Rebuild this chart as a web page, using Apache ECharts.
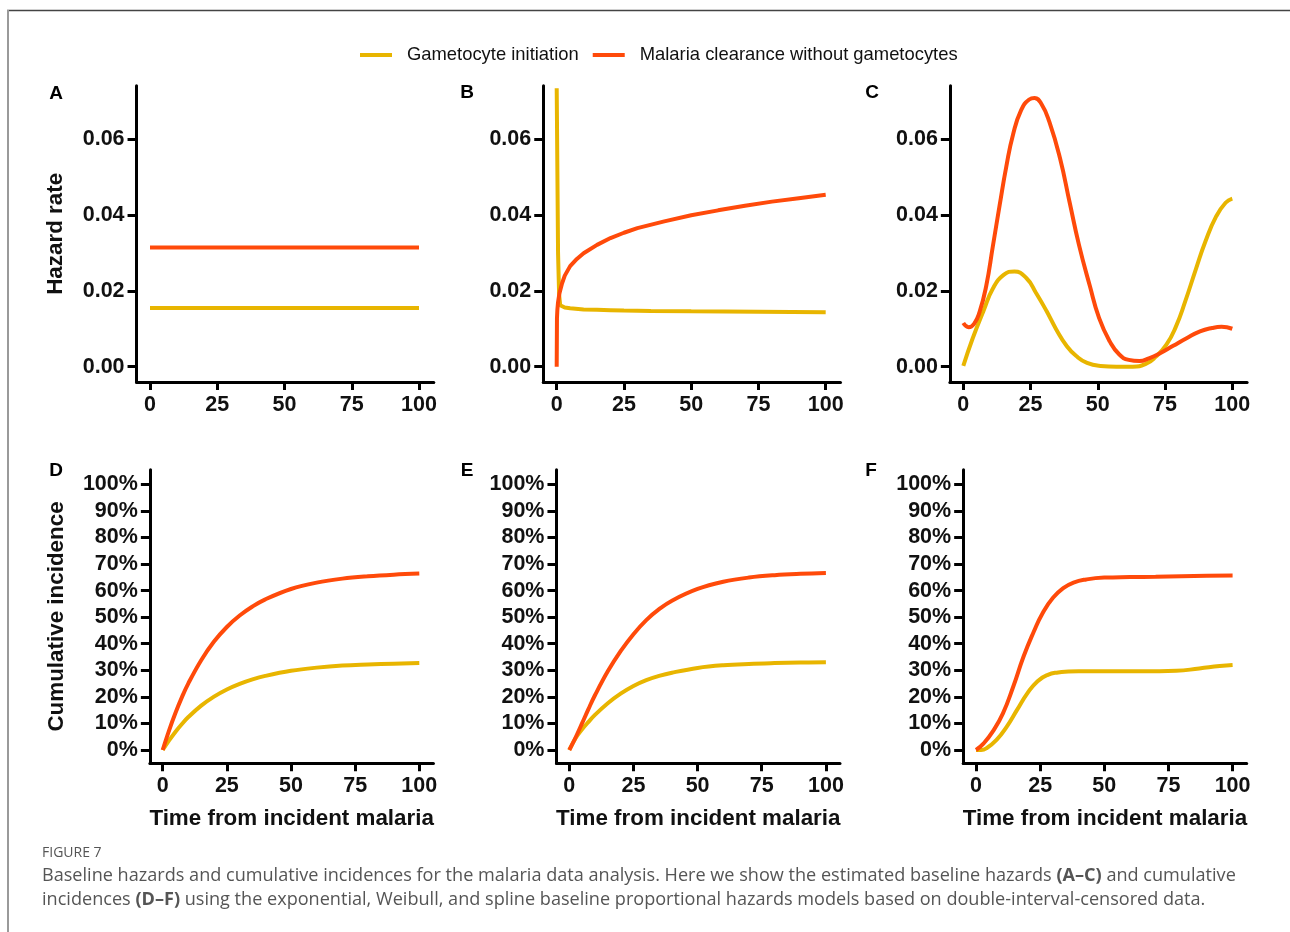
<!DOCTYPE html>
<html>
<head>
<meta charset="utf-8">
<script src="https://cdn.jsdelivr.net/npm/echarts@6/dist/echarts.min.js"></script>
<style>
html,body{margin:0;padding:0;background:#fff;}
#chart{width:1290px;height:932px;}
</style>
</head>
<body>
<div id="chart"></div>
<script>
// ---------- data ----------
const seriesNames = ['Gametocyte initiation', 'Malaria clearance without gametocytes'];
const xTicks = [0, 25, 50, 75, 100];
const hazardTicks = [0, 0.02, 0.04, 0.06];
const cumTicks = [0, 10, 20, 30, 40, 50, 60, 70, 80, 90, 100];

// Panel A (exponential hazards)
const timeA = [0, 100];
const yellowA = [0.0155, 0.0155];
const redA = [0.0314, 0.0314];

// Panel B (Weibull hazards)
const timeBYellow = [0, 0.5, 0.9, 1.3, 2, 3, 5, 10, 15, 20, 25, 35, 50, 75, 100];
const yellowB = [0.0734, 0.030, 0.0190, 0.0162, 0.0158, 0.0156, 0.0154, 0.0151, 0.0150, 0.0149, 0.0148, 0.0147, 0.0146, 0.0145, 0.01435];
const timeBRed = [0, 0.1, 0.25, 0.5, 1, 2, 3, 5, 7.5, 10, 15, 20, 25, 30, 40, 50, 60, 70, 80, 90, 100];
const redB = [0, 0.0128, 0.0150, 0.0170, 0.0193, 0.0220, 0.0240, 0.0265, 0.0284, 0.0299, 0.0321, 0.0339, 0.0353, 0.0365, 0.0383, 0.0399, 0.0412, 0.0424, 0.0435, 0.0444, 0.0453];

// Panel C (spline hazards)
const timeCYellow = [0, 3.5, 7.5, 11, 15, 19, 23.5, 27, 31, 34.5, 38.5, 42, 46, 51, 57, 63, 68, 71.5, 75.5, 79, 82.5, 86.5, 90, 94, 97.5, 100];
const yellowC = [0.0002, 0.0075, 0.0147, 0.0206, 0.0242, 0.0251, 0.0233, 0.0195, 0.0146, 0.0099, 0.0054, 0.0028, 0.0010, 0.0002, 0.0000, 0.0000, 0.0008, 0.0026, 0.0058, 0.0105, 0.0172, 0.0258, 0.0330, 0.0396, 0.0432, 0.0443];
const timeCRed = [0, 2, 4, 6, 8.5, 11, 13.5, 16, 18.5, 21.5, 24.5, 26.5, 29, 32, 36, 39.5, 43, 47, 50.5, 54.5, 58, 61.5, 65.5, 69, 73, 78, 83, 88, 92.5, 96, 100];
const redC = [0.0115, 0.0104, 0.0113, 0.0143, 0.0212, 0.0318, 0.0425, 0.0528, 0.0612, 0.0676, 0.0704, 0.0708, 0.0693, 0.0645, 0.0548, 0.0434, 0.0321, 0.0214, 0.0128, 0.0066, 0.0032, 0.0018, 0.0015, 0.0022, 0.0035, 0.0055, 0.0075, 0.0093, 0.0102, 0.0105, 0.0100];

// Panel D (exponential cumulative incidence, %)
const timeD = [0, 2.5, 5, 7.5, 10, 15, 20, 25, 30, 35, 40, 50, 60, 70, 80, 90, 100];
const yellowD = [0, 3.6, 6.9, 9.8, 12.4, 16.7, 20.1, 22.8, 24.9, 26.6, 27.9, 29.8, 31.0, 31.8, 32.2, 32.5, 32.7];
const redD = [0, 7.4, 14.0, 19.9, 25.1, 33.8, 40.8, 46.3, 50.6, 54.0, 56.7, 60.6, 63.0, 64.5, 65.4, 66.0, 66.4];

// Panel E (Weibull cumulative incidence, %)
const timeE = [0, 2.5, 5, 7.5, 10, 15, 20, 25, 30, 35, 40, 50, 60, 70, 80, 90, 100];
const yellowE = [0, 4.5, 7.8, 10.6, 13.2, 17.6, 21.2, 24.1, 26.3, 27.9, 29.1, 30.9, 31.9, 32.4, 32.7, 32.9, 33.0];
const redE = [0, 4.8, 10.1, 15.5, 20.6, 29.6, 37.2, 43.6, 48.9, 53.0, 56.2, 60.6, 63.3, 64.9, 65.8, 66.3, 66.6];

// Panel F (spline cumulative incidence, %)
const timeFYellow = [0, 2, 4, 8, 12, 16, 20, 24, 28, 32, 36, 40, 52, 65, 78, 87, 95, 100];
const yellowF = [0, 0, 0.6, 3.8, 8.8, 15.1, 21.3, 25.9, 28.3, 29.2, 29.5, 29.6, 29.6, 29.6, 29.8, 30.7, 31.6, 32.0];
const timeFRed = [0, 3, 6.5, 10.5, 14.5, 18.5, 22.5, 26, 30, 34, 38, 43, 50, 60, 70, 80, 90, 100];
const redF = [0, 2.5, 6.9, 13.8, 23.8, 35.1, 44.5, 51.6, 57.3, 60.9, 63.0, 64.2, 64.9, 65.1, 65.2, 65.4, 65.6, 65.7];

// ---------- styling / layout ----------
const YELLOW = '#E8B500';
const RED = '#FF4A0A';
const FONT = '"Liberation Sans", Arial, Helvetica, sans-serif';

function zip(t, v) { return t.map((x, i) => [x, v[i]]); }

const panels = [
  {x0: 150.0, ppu: 2.69, type: 'haz', letter: 'A', lx: 56, ly: 94, yName: 'Hazard rate'},
  {x0: 556.7, ppu: 2.69, type: 'haz', letter: 'B', lx: 467, ly: 93},
  {x0: 963.3, ppu: 2.69, type: 'haz', letter: 'C', lx: 872, ly: 93},
  {x0: 162.7, ppu: 2.566, type: 'cum', letter: 'D', lx: 56, ly: 471, yName: 'Cumulative incidence', xName: true},
  {x0: 569.3, ppu: 2.566, type: 'cum', letter: 'E', lx: 467, ly: 471, xName: true},
  {x0: 976.0, ppu: 2.566, type: 'cum', letter: 'F', lx: 871, ly: 471, xName: true}
];
const panelData = [
  [zip(timeA, yellowA), zip(timeA, redA), false],
  [zip(timeBYellow, yellowB), zip(timeBRed, redB), false],
  [zip(timeCYellow, yellowC), zip(timeCRed, redC), 0.5],
  [zip(timeD, yellowD), zip(timeD, redD), 0.4],
  [zip(timeE, yellowE), zip(timeE, redE), 0.4],
  [zip(timeFYellow, yellowF), zip(timeFRed, redF), 0.5]
];

const XMIN = -5, XMAX = 105.5;
const grids = [], xAxes = [], yAxes = [], series = [], graphics = [];

const axisLineStyle = {color: '#000', width: 3};
const labelStyle = {fontFamily: FONT, fontWeight: 'bold', fontSize: 21.5, color: '#111'};

panels.forEach((p, i) => {
  const isHaz = p.type === 'haz';
  const left = p.x0 + XMIN * p.ppu;
  const width = (XMAX - XMIN) * p.ppu;
  let top, height, ymin, ymax;
  if (isHaz) {
    ymin = -0.004; ymax = 0.074;
    top = 366.7 - (ymax / 0.02) * 75.9;
    height = ((ymax - ymin) / 0.02) * 75.9;
  } else {
    ymin = -5; ymax = 105.5;
    top = 750 - ymax * 2.657;
    height = (ymax - ymin) * 2.657;
  }
  grids.push({left: left, top: top, width: width, height: height, containLabel: false});
  xAxes.push({
    type: 'value', gridIndex: i, min: XMIN, max: XMAX,
    axisLine: {show: true, onZero: false, lineStyle: axisLineStyle},
    axisTick: {show: true, customValues: xTicks, length: 8, lineStyle: {color: '#000', width: 3}},
    axisLabel: Object.assign({customValues: xTicks, margin: 12}, labelStyle),
    splitLine: {show: false},
    name: p.xName ? 'Time from incident malaria' : '',
    nameLocation: 'middle', nameGap: 45,
    nameTextStyle: {fontFamily: FONT, fontWeight: 'bold', fontSize: 22.4, color: '#111'}
  });
  yAxes.push({
    type: 'value', gridIndex: i, min: ymin, max: ymax,
    axisLine: {show: true, onZero: false, lineStyle: axisLineStyle},
    axisTick: {show: true, customValues: isHaz ? hazardTicks : cumTicks, length: 9, lineStyle: {color: '#000', width: 3}},
    axisLabel: Object.assign({
      customValues: isHaz ? hazardTicks : cumTicks, margin: 12,
      formatter: isHaz ? (v => v.toFixed(2)) : (v => Math.round(v) + '%')
    }, labelStyle),
    splitLine: {show: false},
    name: p.yName || '',
    nameLocation: 'middle', nameGap: isHaz ? 70 : 82,
    nameTextStyle: {fontFamily: FONT, fontWeight: 'bold', fontSize: 22.4, color: '#111'}
  });
  const d = panelData[i];
  series.push({
    name: seriesNames[0], type: 'line', xAxisIndex: i, yAxisIndex: i,
    data: d[0], showSymbol: false, symbol: 'none', smooth: d[2], smoothConstraint: false,
    lineStyle: {color: YELLOW, width: 4}, itemStyle: {color: YELLOW}
  });
  series.push({
    name: seriesNames[1], type: 'line', xAxisIndex: i, yAxisIndex: i,
    data: d[1], showSymbol: false, symbol: 'none', smooth: d[2], smoothConstraint: false,
    lineStyle: {color: RED, width: 4}, itemStyle: {color: RED}
  });
  graphics.push({
    type: 'text', x: p.lx, y: p.ly,
    style: {text: p.letter, fontFamily: FONT, fontWeight: 'bold', fontSize: 19, fill: '#000', align: 'center', verticalAlign: 'middle'}
  });
});

// figure frame
graphics.push({type: 'line', shape: {x1: 7, y1: 10.5, x2: 1290, y2: 10.5}, style: {stroke: '#444', lineWidth: 1.5}});
graphics.push({type: 'line', shape: {x1: 8, y1: 10, x2: 8, y2: 932}, style: {stroke: '#9a9a9a', lineWidth: 2}});

// caption
const CAP_FONT = '"Open Sans", Lato, sans-serif';
graphics.push({
  type: 'text', x: 42, y: 853,
  style: {text: 'FIGURE 7', fontFamily: CAP_FONT, fontSize: 14, fill: '#555', verticalAlign: 'middle'}
});
const capRich = {
  n: {fontFamily: CAP_FONT, fontSize: 18.1, fill: '#555', fontWeight: 'normal'},
  b: {fontFamily: CAP_FONT, fontSize: 18.1, fill: '#555', fontWeight: 'bold'}
};
graphics.push({
  type: 'text', x: 42, y: 876,
  style: {
    text: '{n|Baseline hazards and cumulative incidences for the malaria data analysis. Here we show the estimated baseline hazards }{b|(A–C)}{n| and cumulative}',
    rich: capRich, verticalAlign: 'middle'
  }
});
graphics.push({
  type: 'text', x: 42, y: 900,
  style: {
    text: '{n|incidences }{b|(D–F)}{n| using the exponential, Weibull, and spline baseline proportional hazards models based on double-interval-censored data.}',
    rich: capRich, verticalAlign: 'middle'
  }
});

const option = {
  animation: false,
  backgroundColor: '#fff',
  legend: {
    data: seriesNames,
    left: 355, top: 41,
    icon: 'rect', itemWidth: 32, itemHeight: 4, itemGap: 14,
    textStyle: {fontFamily: FONT, fontSize: 18.4, color: '#111', padding: [0, 0, 0, 10]}
  },
  grid: grids,
  xAxis: xAxes,
  yAxis: yAxes,
  series: series,
  graphic: graphics
};

const chart = echarts.init(document.getElementById('chart'), null, {renderer: 'canvas'});
chart.setOption(option);
</script>
</body>
</html>
